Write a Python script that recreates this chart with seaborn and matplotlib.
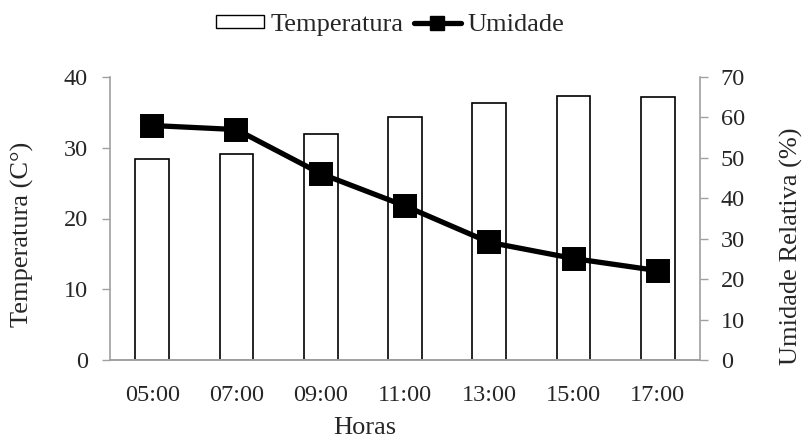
import matplotlib
matplotlib.use("Agg")
import matplotlib.pyplot as plt
import seaborn as sns
import numpy as np
from matplotlib.patches import Patch
from matplotlib.lines import Line2D

horas = ["05:00", "07:00", "09:00", "11:00", "13:00", "15:00", "17:00"]
temperatura = [28.4, 29.1, 31.9, 34.4, 36.3, 37.3, 37.2]
umidade = [58.0, 57.0, 46.1, 38.1, 29.1, 25.1, 22.1]

sns.set_style("white")
plt.rcParams["font.family"] = ["Liberation Serif", "DejaVu Serif"]
FS = 17.5   # tick labels
LFS = 19    # axis labels and legend
plt.rcParams["font.size"] = FS

grey = "#a0a0a0"
fig, ax = plt.subplots(figsize=(8.06, 4.41), dpi=100)
fig.subplots_adjust(left=110/806, right=700/806, top=1-77/441, bottom=1-360/441)

sns.barplot(x=horas, y=temperatura, ax=ax, color="white", edgecolor="black",
            linewidth=1.2, width=0.4, errorbar=None)
ax.set_ylim(0, 40)
ax.set_yticks(np.arange(0, 41, 10))
ax.set_xlim(-0.5, 6.5)
ax.set_xticks(np.arange(-0.5, 7, 1), minor=True)
ax.tick_params(axis="x", which="major", length=0, pad=18, labelsize=FS)
ax.tick_params(axis="x", which="minor", length=5.5, color=grey, width=1)
ax.tick_params(axis="y", length=5.5, color=grey, width=1, left=True, labelsize=FS, pad=10.5)
ax.set_xlabel("Horas", fontsize=LFS, va="center", ha="center")
ax.xaxis.set_label_coords((365 - 110) / 590, (360 - 428) / 283)
ax.set_ylabel("Temperatura (C°)", fontsize=LFS, va="center", ha="center")
ax.yaxis.set_label_coords((22 - 110) / 590, (360 - 234) / 283)

ax2 = ax.twinx()
sns.pointplot(x=horas, y=umidade, ax=ax2, color="black", markers="s",
              markersize=14, linewidth=3.8, errorbar=None)
ax2.set_ylim(0, 70)
ax2.set_yticks(np.arange(0, 71, 10))
ax2.set_xlim(-0.5, 6.5)
ax2.tick_params(axis="y", length=5.5, color=grey, width=1, right=True, labelsize=FS, pad=9.5)
ax2.set_ylabel("Umidade Relativa (%)", fontsize=LFS, va="center", ha="center")
ax2.yaxis.set_label_coords((791 - 110) / 590, (360 - 246) / 283)

for a in (ax, ax2):
    for s in ["left", "right", "bottom"]:
        a.spines[s].set_color(grey)
        a.spines[s].set_linewidth(1.2)
        a.spines[s].set_visible(True)
    a.spines["top"].set_visible(False)
ax2.spines["left"].set_visible(False)
ax.spines["right"].set_visible(False)

handles = [Patch(facecolor="white", edgecolor="black", linewidth=1.0, label="Temperatura"),
           Line2D([0], [0], color="black", lw=3.8, marker="s", markersize=10, label="Umidade")]
fig.legend(handles=handles, loc="center left", bbox_to_anchor=(216/806, 1-25/441), ncol=2,
           frameon=False, fontsize=LFS, handlelength=1.8, handletextpad=0.25,
           columnspacing=0.4, handleheight=0.4, borderpad=0, borderaxespad=0)

fig.savefig("out.png", dpi=100)
